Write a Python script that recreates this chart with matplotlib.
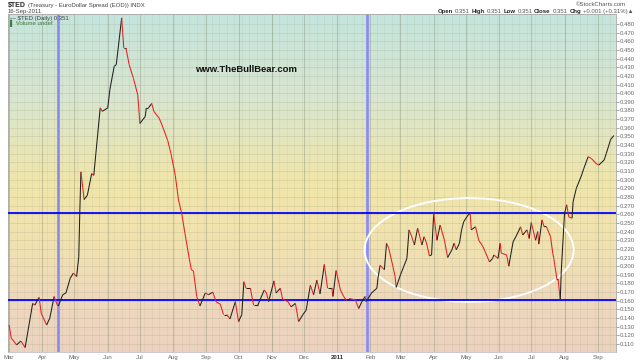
import matplotlib
matplotlib.use("Agg")
import matplotlib.pyplot as plt
import matplotlib.dates as mdates
from matplotlib.collections import LineCollection
from matplotlib.patches import Ellipse
from matplotlib.colors import LinearSegmentedColormap
import numpy as np
import pandas as pd

# $TED daily close
dates = [
    "2010-03-01", "2010-03-03", "2010-03-08", "2010-03-12", "2010-03-16", "2010-03-23", "2010-03-25",
    "2010-03-29", "2010-03-31", "2010-04-05", "2010-04-08", "2010-04-12", "2010-04-15", "2010-04-16",
    "2010-04-20", "2010-04-23", "2010-04-27", "2010-04-30", "2010-05-03", "2010-05-05", "2010-05-06",
    "2010-05-07", "2010-05-10", "2010-05-13", "2010-05-17", "2010-05-19", "2010-05-21", "2010-05-25",
    "2010-05-27", "2010-06-01", "2010-06-03", "2010-06-07", "2010-06-09", "2010-06-14", "2010-06-16",
    "2010-06-18", "2010-06-21", "2010-06-25", "2010-06-29", "2010-07-01", "2010-07-06", "2010-07-07",
    "2010-07-09", "2010-07-12", "2010-07-14", "2010-07-19", "2010-07-22", "2010-07-27", "2010-07-30",
    "2010-08-03", "2010-08-06", "2010-08-09", "2010-08-12", "2010-08-16", "2010-08-18", "2010-08-20",
    "2010-08-23", "2010-08-26", "2010-08-31", "2010-09-03", "2010-09-07", "2010-09-10", "2010-09-14",
    "2010-09-17", "2010-09-20", "2010-09-23", "2010-09-28", "2010-10-01", "2010-10-04", "2010-10-06",
    "2010-10-08", "2010-10-12", "2010-10-15", "2010-10-19", "2010-10-21", "2010-10-25", "2010-10-27",
    "2010-10-29", "2010-11-03", "2010-11-05", "2010-11-09", "2010-11-11", "2010-11-16", "2010-11-19",
    "2010-11-23", "2010-11-26", "2010-11-30", "2010-12-03", "2010-12-07", "2010-12-10", "2010-12-13",
    "2010-12-16", "2010-12-20", "2010-12-23", "2010-12-27", "2010-12-28", "2010-12-31",
    "2011-01-04", "2011-01-07", "2011-01-10", "2011-01-13", "2011-01-18", "2011-01-21", "2011-01-24",
    "2011-01-27", "2011-01-28", "2011-02-02", "2011-02-07", "2011-02-08", "2011-02-10", "2011-02-14",
    "2011-02-16", "2011-02-18", "2011-02-22", "2011-02-24", "2011-02-25", "2011-03-01", "2011-03-04",
    "2011-03-07", "2011-03-09", "2011-03-11", "2011-03-14", "2011-03-17", "2011-03-21", "2011-03-23",
    "2011-03-25", "2011-03-28", "2011-03-30", "2011-04-01", "2011-04-04", "2011-04-07", "2011-04-11",
    "2011-04-14", "2011-04-18", "2011-04-20", "2011-04-22", "2011-04-25", "2011-04-27", "2011-04-29",
    "2011-05-03", "2011-05-05", "2011-05-06", "2011-05-10", "2011-05-13", "2011-05-17", "2011-05-23",
    "2011-05-26", "2011-05-27", "2011-05-31", "2011-06-02", "2011-06-03", "2011-06-08", "2011-06-10",
    "2011-06-14", "2011-06-17", "2011-06-21", "2011-06-23", "2011-06-27", "2011-06-29", "2011-07-01",
    "2011-07-05", "2011-07-07", "2011-07-08", "2011-07-11", "2011-07-13", "2011-07-15", "2011-07-19",
    "2011-07-21", "2011-07-22", "2011-07-25", "2011-07-26", "2011-07-28", "2011-07-29", "2011-08-01",
    "2011-08-03", "2011-08-05", "2011-08-08", "2011-08-09", "2011-08-12", "2011-08-17", "2011-08-19",
    "2011-08-23", "2011-08-26", "2011-08-31", "2011-09-02", "2011-09-07", "2011-09-09", "2011-09-13",
    "2011-09-16",
]
ted = [
    0.132, 0.117, 0.109, 0.1135, 0.106, 0.157, 0.155,
    0.164, 0.1455, 0.132, 0.140, 0.165, 0.155, 0.154,
    0.167, 0.169, 0.186, 0.192, 0.188, 0.211, 0.265,
    0.309, 0.277, 0.282, 0.307, 0.305, 0.331, 0.383,
    0.379, 0.383, 0.404, 0.431, 0.433, 0.487, 0.452,
    0.452, 0.433, 0.417, 0.398, 0.365, 0.373, 0.383,
    0.383, 0.388, 0.379, 0.371, 0.362, 0.345, 0.330,
    0.305, 0.2765, 0.261, 0.238, 0.209, 0.196, 0.194,
    0.165, 0.154, 0.169, 0.167, 0.170, 0.159, 0.156,
    0.144, 0.144, 0.139, 0.159, 0.136, 0.144, 0.182,
    0.1745, 0.1745, 0.155, 0.155, 0.161, 0.1725, 0.169,
    0.159, 0.183, 0.169, 0.1745, 0.162, 0.159, 0.153,
    0.157, 0.136, 0.144, 0.149, 0.178, 0.167, 0.184,
    0.168, 0.202, 0.1745, 0.1745, 0.165, 0.195,
    0.1725, 0.165, 0.160, 0.1625, 0.161, 0.151, 0.159,
    0.165, 0.159, 0.169, 0.1745, 0.186, 0.201, 0.196,
    0.2265, 0.221, 0.1995, 0.188, 0.1755, 0.190, 0.1995,
    0.209, 0.242, 0.236, 0.2245, 0.244, 0.2245, 0.234,
    0.228, 0.212, 0.213, 0.261, 0.230, 0.2475, 0.230,
    0.210, 0.219, 0.2265, 0.219, 0.2265, 0.242, 0.2515,
    0.259, 0.261, 0.242, 0.2455, 0.230, 0.2225, 0.205,
    0.209, 0.213, 0.209, 0.2265, 0.215, 0.213, 0.200,
    0.228, 0.235, 0.2455, 0.236, 0.242, 0.232, 0.2505,
    0.230, 0.240, 0.2255, 0.2535, 0.2455, 0.246, 0.234,
    0.215, 0.209, 0.184, 0.185, 0.161, 0.1955, 0.261,
    0.271, 0.257, 0.2555, 0.2745, 0.290, 0.3055, 0.313,
    0.3265, 0.3245, 0.318, 0.317, 0.3228, 0.3305, 0.3465,
    0.351,
]

support = 0.161
resistance = 0.261
marker_dates = ["2010-04-16", "2011-01-29"]
range_center = ("2011-05-04", 0.2187)
range_span_days = 195
range_span_value = 0.120

month_starts = pd.date_range("2010-03-01", "2011-09-01", freq="MS")
month_labels = [("2011" if d.month == 1 else d.strftime("%b")) for d in month_starts]
y_ticks = np.round(np.arange(0.11, 0.4801, 0.01), 3)

font = ["Liberation Sans", "DejaVu Sans"]
plt.rcParams["font.family"] = font

fig = plt.figure(figsize=(6.4, 3.6), dpi=100)
ax = fig.add_axes([8 / 640, 8 / 360, 608 / 640, 338 / 360])

# background gradient, teal -> yellow -> peach
bg = LinearSegmentedColormap.from_list("bg", [
    (0.0, "#c5e4dc"), (0.25, "#d9e5cf"), (0.5, "#f0e6aa"),
    (0.68, "#f0e2b0"), (0.85, "#eed8bd"), (1.0, "#ecd3c0")])
grad = np.linspace(0, 1, 256).reshape(-1, 1)
ax.imshow(grad, cmap=bg, aspect="auto", extent=[0, 1, 0, 1],
          transform=ax.transAxes, zorder=0, interpolation="bilinear")

x0 = mdates.date2num(pd.Timestamp("2010-02-28"))
x1 = mdates.date2num(pd.Timestamp("2011-09-18"))
ax.set_xlim(x0, x1)
ax.set_ylim(0.1008, 0.4915)
ax.set_autoscale_on(False)

# grid
grid_c = (0.35, 0.4, 0.3)
for v in y_ticks:
    ax.axhline(v, color=grid_c, alpha=0.17, lw=0.5, zorder=1)
for d in pd.date_range("2010-03-01", "2011-09-18", freq="W-MON"):
    ax.axvline(mdates.date2num(d), color=grid_c, alpha=0.1, lw=0.45, zorder=1)
for d in month_starts:
    ax.axvline(mdates.date2num(d), color=grid_c, alpha=0.28, lw=0.7, zorder=1)

# annotations
for d in marker_dates:
    ax.axvline(mdates.date2num(pd.Timestamp(d)), color="#8c8cf2", lw=2.0, zorder=2)
ax.axhline(resistance, color="#0000ff", lw=1.3, zorder=4)
ax.axhline(support, color="#0000ff", lw=1.3, zorder=4)
ax.add_patch(Ellipse((mdates.date2num(pd.Timestamp(range_center[0])), range_center[1]),
                     range_span_days, range_span_value, fill=False,
                     edgecolor="white", lw=1.4, zorder=3))

# price line, black on up days, red on down days
xs = mdates.date2num(pd.to_datetime(dates))
ys = np.array(ted)
pts = np.column_stack([xs, ys])
segs = np.stack([pts[:-1], pts[1:]], axis=1)
cols = ["#202020" if b >= a else "#e42020" for a, b in zip(ys[:-1], ys[1:])]
ax.add_collection(LineCollection(segs, colors=cols, linewidths=0.75, zorder=5))

# axes styling
for s in ax.spines.values():
    s.set_color("#a8a8a8")
    s.set_linewidth(0.6)
ax.spines["bottom"].set_linestyle((0, (1, 1)))
ax.spines["bottom"].set_color("#c0c0c0")
ax.yaxis.tick_right()
ax.set_yticks(y_ticks)
ax.set_yticklabels([f"{v:.3f}" for v in y_ticks])
ax.tick_params(axis="y", labelsize=4.3, colors="#666666", length=2, width=0.4, pad=1)
ax.set_xticks(mdates.date2num(month_starts))
ax.set_xticklabels(month_labels)
ax.tick_params(axis="x", labelsize=4.3, colors="#666666", length=0, pad=2)
for lab in ax.get_xticklabels():
    if lab.get_text() == "2011":
        lab.set_fontweight("bold")
        lab.set_color("#333333")

# header
t = fig.text(8 / 640, 1 - 5 / 360, "$TED", fontsize=5, fontweight="bold", color="#222222", va="center")
ax.annotate("(Treasury - EuroDollar Spread (EOD)) INDX", xy=(1, 0.5), xycoords=t,
            xytext=(1.5, 0), textcoords="offset points", fontsize=4.3, color="#444444",
            va="center", ha="left", annotation_clip=False)
fig.text(8 / 640, 1 - 12 / 360, "16-Sep-2011", fontsize=4.3, color="#444444", va="center")
fig.text(626 / 640, 1 - 4.5 / 360, "\u00a9StockCharts.com", fontsize=4.3, color="#555555",
         va="center", ha="right")

pieces = [("Open", "bold"), ("0.351", "normal"), ("High", "bold"), ("0.351", "normal"),
          ("Low", "bold"), ("0.351", "normal"), ("Close", "bold"), ("0.351", "normal"),
          ("Chg", "bold"), ("+0.001 (+0.31%)\u25b2", "normal")]
t = fig.text(438 / 640, 1 - 11.5 / 360, pieces[0][0], fontsize=4.3, fontweight=pieces[0][1],
             color="#222222", va="center")
for s, w in pieces[1:]:
    t = ax.annotate(s, xy=(1, 0.5), xycoords=t, xytext=(1.3, 0), textcoords="offset points",
                    fontsize=4.3, fontweight=w, color="#222222" if w == "bold" else "#555555",
                    va="center", ha="left", annotation_clip=False)

# legend inside the chart
ax.text(0.004, 0.988, "\u2014 $TED (Daily) 0.351", transform=ax.transAxes, fontsize=4.3,
        color="#444444", va="center", ha="left", zorder=6)
ax.text(0.004, 0.973, "\u258c Volume undef", transform=ax.transAxes, fontsize=4.3,
        color="#3f7a3f", va="center", ha="left", zorder=6)

# watermark
ax.text(238 / 608, 1 - (70 - 14) / 338, "www.TheBullBear.com",
        transform=ax.transAxes, fontsize=6.8, fontweight="bold", color="#111111",
        ha="center", va="center", zorder=6)

fig.savefig("out.png", dpi=100)
